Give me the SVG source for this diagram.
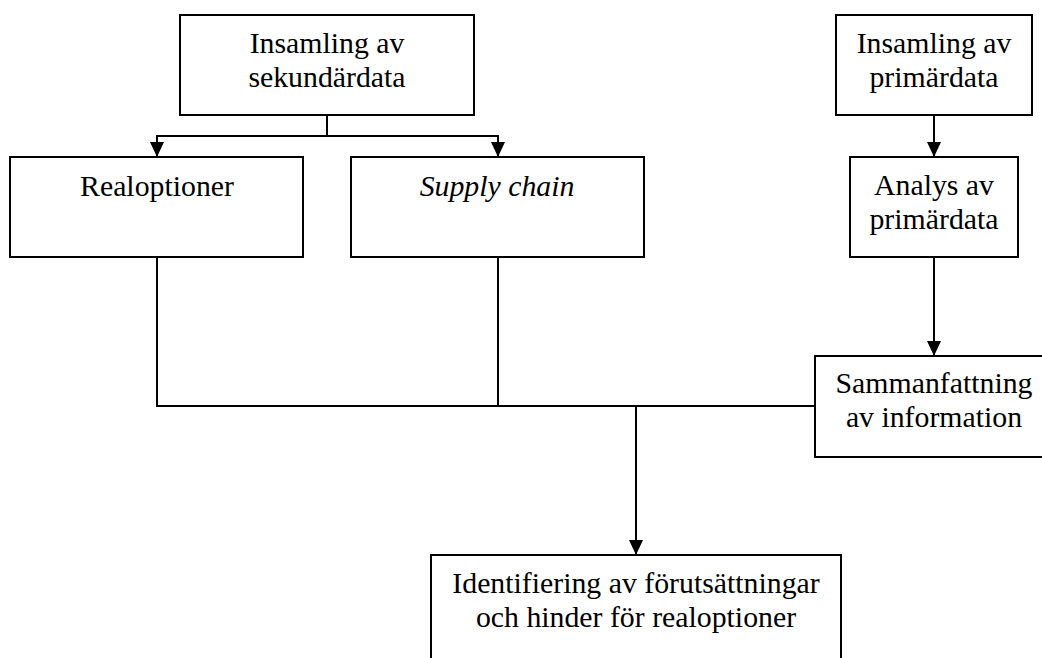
<svg xmlns="http://www.w3.org/2000/svg" width="1042" height="658" viewBox="0 0 1042 658">
<style>
.box{fill:#fff;stroke:#000;stroke-width:2}
.t{font-family:"Liberation Serif","Times New Roman",serif;font-size:29.8px;fill:#000;text-anchor:middle}
.c{fill:none;stroke:#000;stroke-width:2}
</style>
<defs>
<marker id="ah" viewBox="0 0 15 14" refX="15" refY="7" markerWidth="15" markerHeight="14" markerUnits="userSpaceOnUse" orient="auto">
<path d="M0,0 L15,7 L0,14 Z" fill="#000"/>
</marker>
</defs>
<rect width="1042" height="658" fill="#fff"/>
<g id="connectors">
<path class="c" d="M327,115 V136"/>
<path class="c" d="M327,136 H157 V157" marker-end="url(#ah)"/>
<path class="c" d="M327,136 H498 V157" marker-end="url(#ah)"/>
<path class="c" d="M934,115 V157" marker-end="url(#ah)"/>
<path class="c" d="M934,257 V356" marker-end="url(#ah)"/>
<path class="c" d="M157,257 V406 H815"/>
<path class="c" d="M498,257 V406"/>
<path class="c" d="M636,406 V555" marker-end="url(#ah)"/>
</g>
<g id="n-sekundar">
<rect class="box" x="180" y="15" width="294" height="100"/>
<text class="t" x="327" y="53">Insamling av</text>
<text class="t" x="327" y="87">sekundärdata</text>
</g>
<g id="n-primar">
<rect class="box" x="836" y="15" width="196" height="100"/>
<text class="t" x="934" y="53">Insamling av</text>
<text class="t" x="934" y="87">primärdata</text>
</g>
<g id="n-realoptioner">
<rect class="box" x="10" y="157" width="293" height="100"/>
<text class="t" x="157" y="196">Realoptioner</text>
</g>
<g id="n-supply">
<rect class="box" x="351" y="157" width="293" height="100"/>
<text class="t" x="497" y="196" font-style="italic">Supply chain</text>
</g>
<g id="n-analys">
<rect class="box" x="850" y="157" width="168" height="100"/>
<text class="t" x="934" y="195">Analys av</text>
<text class="t" x="934" y="229">primärdata</text>
</g>
<g id="n-sammanfattning">
<rect class="box" x="815" y="356" width="238" height="101"/>
<text class="t" x="934" y="393">Sammanfattning</text>
<text class="t" x="934" y="427">av information</text>
</g>
<g id="n-identifiering">
<rect class="box" x="431" y="555" width="410" height="130"/>
<text class="t" x="636" y="593">Identifiering av förutsättningar</text>
<text class="t" x="636" y="627">och hinder för realoptioner</text>
</g>
</svg>
